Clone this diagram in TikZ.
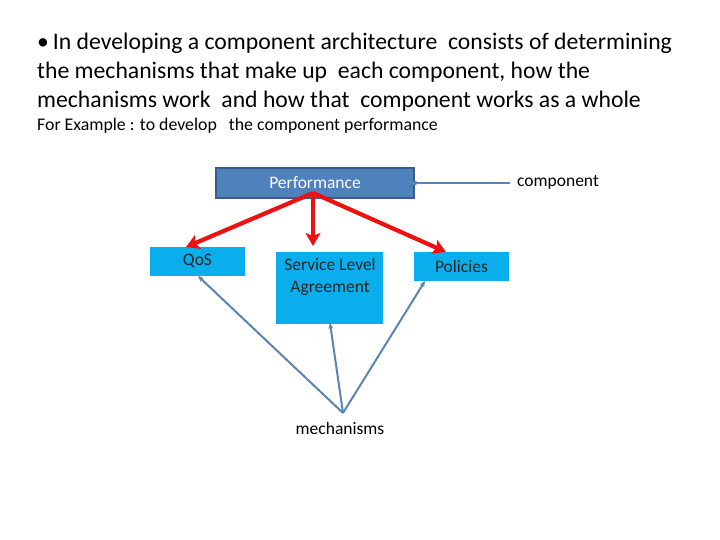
\documentclass[tikz,border=0pt]{standalone}
\usepackage{fontspec}
\setmainfont{Carlito}
\usetikzlibrary{arrows.meta}
\definecolor{perf}{HTML}{4F81BD}
\definecolor{perfborder}{HTML}{385D8A}
\definecolor{lblue}{HTML}{0BAEEC}
\definecolor{steel}{HTML}{5A84B4}
\definecolor{redarr}{HTML}{EE1111}
\tikzset{
  lbl/.style={font=\fontsize{17.5}{21}\selectfont, inner sep=0pt},
  box/.style={fill=lblue, draw=none, inner sep=0pt, font=\fontsize{17.5}{21}\selectfont, text=black!85},
  redline/.style={draw=redarr, line width=4.2pt, -{Stealth[length=13pt,width=15pt,inset=3pt]}},
  blueline/.style={draw=steel, line width=2pt, -{Stealth[length=6pt,width=5pt]}},
}
\begin{document}
\begin{tikzpicture}[x=1pt,y=-1pt]
\useasboundingbox (0,0) rectangle (720,540);
\node[anchor=west, font=\fontsize{23.7}{29}\selectfont, align=left, inner sep=0pt] (title) at (37,72.5)
 {•\,In developing a component architecture\ \ consists of determining\\
  the mechanisms that make up\ \ each component, how the\\
  mechanisms work\ \ and how that\ \ component works as a whole};
\node[anchor=west, font=\fontsize{17.8}{20}\selectfont, inner sep=0pt] (ex) at (37,126)
 {For Example : to develop\ \ \ the component performance};
\node[fill=perf, draw=perfborder, line width=2pt, minimum width=198, minimum height=30, inner sep=0pt,
      font=\fontsize{17.5}{21}\selectfont, text=white] (perf) at (315,183) {Performance};
\node[lbl, anchor=west] (comp) at (517,182) {component};
\node[box, minimum width=95, minimum height=29] (qos) at (197.5,261) {QoS};
\node[box, minimum width=107, minimum height=72, anchor=north] (sla) at (329.5,252) {};
\node[lbl, font=\fontsize{17.5}{22}\selectfont, align=center, text=black!85] (slat) at (330,277) {Service Level\\Agreement};
\node[box, minimum width=95, minimum height=29] (pol) at (461.5,266.5) {Policies};
\node[lbl] (mech) at (340,428) {mechanisms};
\coordinate (mp) at (343,413);
\coordinate (ps) at (313,193);
\coordinate (ce) at (510,183);
\draw[steel, line width=2pt] (ce) -- (perf.east);
\fill[steel] (perf.east) circle (2.2);
\draw[redline] (ps) -- (186,247);
\draw[redline] (ps) -- (313,246);
\draw[redline] (ps) -- (446,252);
\draw[blueline] (mp) -- (198,276);
\draw[blueline] (mp) -- (330,323);
\draw[blueline] (mp) -- (425,281);
\end{tikzpicture}
\end{document}
